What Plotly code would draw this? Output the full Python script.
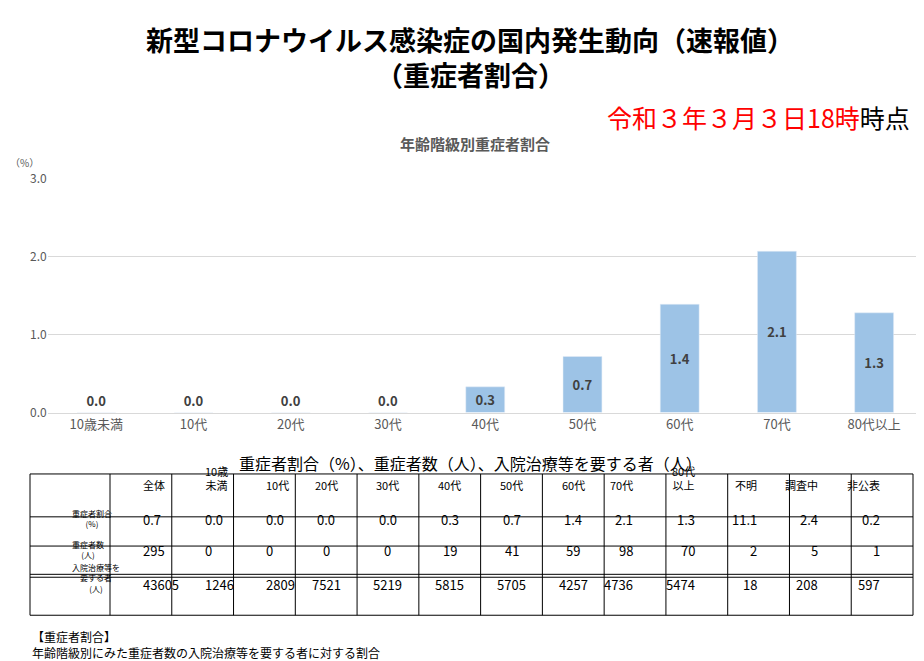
import plotly.graph_objects as go

FONT = "Noto Sans CJK JP"
W, H = 924, 661

age_groups = ["10歳未満", "10代", "20代", "30代", "40代", "50代", "60代", "70代", "80代以上"]
severe_ratio = [0.0, 0.0, 0.0, 0.0, 0.33, 0.72, 1.39, 2.07, 1.28]
ratio_labels = ["0.0", "0.0", "0.0", "0.0", "0.3", "0.7", "1.4", "2.1", "1.3"]

table_cols = ["", "全体", "10歳<br>未満", "10代", "20代", "30代", "40代", "50代", "60代",
              "70代", "80代<br>以上", "不明", "調査中", "非公表"]
row_names = ["重症者割合<br>(%)", "重症者数<br>(人)", "入院治療等を<br>要する者<br>(人)"]
ratio_row = ["0.7", "0.0", "0.0", "0.0", "0.0", "0.3", "0.7", "1.4", "2.1", "1.3", "11.1", "2.4", "0.2"]
severe_row = [295, 0, 0, 0, 0, 19, 41, 59, 98, 70, 2, 5, 1]
hosp_row = [43605, 1246, 2809, 7521, 5219, 5815, 5705, 4257, 4736, 5474, 18, 208, 597]

fig = go.Figure()
fig.add_trace(go.Bar(
    x=age_groups, y=severe_ratio, text=[f"<b>{t}</b>" for t in ratio_labels],
    textposition=["outside"] * 4 + ["inside"] * 5, insidetextanchor="middle",
    textfont=dict(family=FONT, size=13, color="#404040"),
    marker=dict(color="#9dc3e6"), width=0.4, cliponaxis=False, showlegend=False,
))

# table grid in pixel layout, converted to paper coords
px_x = lambda v: v / W
px_y = lambda v: 1 - v / H
col_edges = [22, 102] + [102 + (905 - 102) * (i + 1) / 13 for i in range(13)]
row_edges = [468, 512, 542, 574, 613]

shapes = []
for xe in col_edges:
    shapes.append(dict(type="line", xref="paper", yref="paper", x0=px_x(xe), x1=px_x(xe),
                       y0=px_y(row_edges[0]), y1=px_y(row_edges[-1]),
                       line=dict(color="black", width=1)))
for ye in row_edges:
    shapes.append(dict(type="line", xref="paper", yref="paper", x0=px_x(22), x1=px_x(905),
                       y0=px_y(ye), y1=px_y(ye), line=dict(color="black", width=1)))
shapes.append(dict(type="line", xref="paper", yref="paper", x0=px_x(22), x1=px_x(905),
                   y0=px_y(571), y1=px_y(571), line=dict(color="black", width=1)))

annotations = []
rows = [table_cols, [row_names[0]] + ratio_row, [row_names[1]] + [str(v) for v in severe_row],
        [row_names[2]] + [str(v) for v in hosp_row]]
for r, vals in enumerate(rows):
    yc = (row_edges[r] + row_edges[r + 1]) / 2
    for c, v in enumerate(vals):
        if not v:
            continue
        xc = (col_edges[c] + col_edges[c + 1]) / 2
        size = 8 if c == 0 else (11 if r == 0 else 13)
        annotations.append(dict(text=v, x=px_x(xc), y=px_y(yc), xref="paper", yref="paper",
                                showarrow=False, font=dict(size=size, color="black")))

annotations += [
    dict(text="<b>新型コロナウイルス感染症の国内発生動向（速報値）</b>", x=0.5, y=1.0,
         xref="paper", yref="paper", showarrow=False, yanchor="top",
         font=dict(size=27, color="black")),
    dict(text="<b>（重症者割合）</b>", x=0.5, y=0.945, xref="paper", yref="paper",
         showarrow=False, yanchor="top", font=dict(size=27, color="black")),
    dict(text="<span style='color:red'>令和３年３月３日18時</span>時点", x=0.978, y=0.878,
         xref="paper", yref="paper", showarrow=False, xanchor="right", yanchor="top",
         font=dict(size=25, color="black")),
    dict(text="<b>年齢階級別重症者割合</b>", x=0.505, y=0.825, xref="paper", yref="paper",
         showarrow=False, yanchor="top", font=dict(size=15, color="#595959")),
    dict(text="（%）", x=0.0, y=0.79, xref="paper", yref="paper", showarrow=False,
         xanchor="left", yanchor="top", font=dict(size=10, color="#595959")),
    dict(text="重症者割合（%）、重症者数（人）、入院治療等を要する者（人）", x=0.5, y=px_y(442),
         xref="paper", yref="paper", showarrow=False, yanchor="top",
         font=dict(size=16, color="black")),
    dict(text="【重症者割合】<br>年齢階級別にみた重症者数の入院治療等を要する者に対する割合",
         x=0.024, y=px_y(624), xref="paper", yref="paper", showarrow=False,
         xanchor="left", yanchor="top", align="left", font=dict(size=12, color="black")),
]

fig.update_layout(
    width=W, height=H, margin=dict(l=0, r=0, t=0, b=0),
    paper_bgcolor="white", plot_bgcolor="white", font=dict(family=FONT),
    xaxis=dict(domain=[0.043, 0.99], showline=True, linecolor="#d9d9d9",
               tickfont=dict(size=13, color="#595959")),
    yaxis=dict(domain=[px_y(405), px_y(165)], range=[0, 3], dtick=1, tickformat=".1f",
               gridcolor="#d9d9d9", zeroline=False, showline=False,
               tickfont=dict(size=12, color="#595959")),
    shapes=shapes, annotations=annotations,
)

fig.write_html("out.html")
